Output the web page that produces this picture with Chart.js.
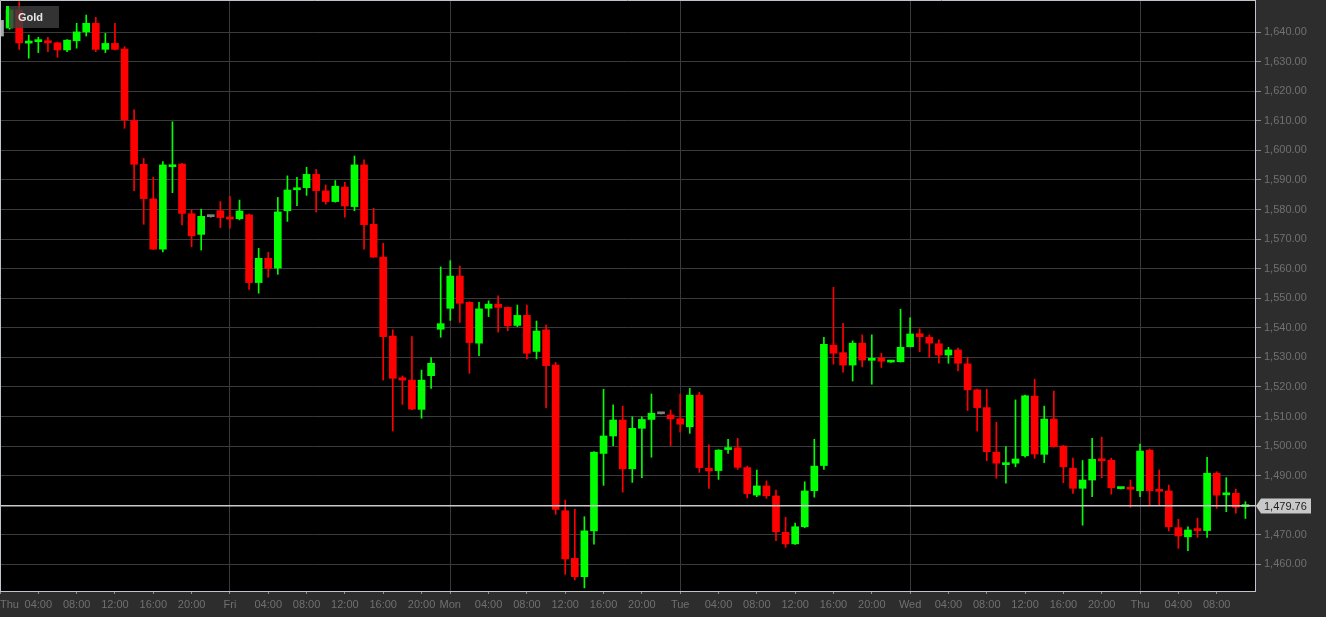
<!DOCTYPE html>
<html>
<head>
<meta charset="utf-8">
<script src="https://cdn.jsdelivr.net/npm/chart.js@4.4.1/dist/chart.umd.min.js"></script>
<style>
html,body{margin:0;padding:0;background:#2d2d2d;overflow:hidden}
#wrap{width:1326px;height:617px;position:relative}
</style>
</head>
<body>
<div id="wrap"><canvas id="c"></canvas></div>
<script>
// ---------- DATA ----------
const seriesName = 'Gold';
const lastPrice = 1479.76;

const categories = [
 'Thu','01:00','02:00','03:00','04:00','05:00','06:00','07:00','08:00','09:00','10:00','11:00','12:00','13:00','14:00','15:00','16:00','17:00','18:00','19:00','20:00','21:00','22:00','23:00',
 'Fri','01:00','02:00','03:00','04:00','05:00','06:00','07:00','08:00','09:00','10:00','11:00','12:00','13:00','14:00','15:00','16:00','17:00','18:00','19:00','20:00','21:00','22:00',
 'Mon','01:00','02:00','03:00','04:00','05:00','06:00','07:00','08:00','09:00','10:00','11:00','12:00','13:00','14:00','15:00','16:00','17:00','18:00','19:00','20:00','21:00','22:00','23:00',
 'Tue','01:00','02:00','03:00','04:00','05:00','06:00','07:00','08:00','09:00','10:00','11:00','12:00','13:00','14:00','15:00','16:00','17:00','18:00','19:00','20:00','21:00','22:00','23:00',
 'Wed','01:00','02:00','03:00','04:00','05:00','06:00','07:00','08:00','09:00','10:00','11:00','12:00','13:00','14:00','15:00','16:00','17:00','18:00','19:00','20:00','21:00','22:00','23:00',
 'Thu','01:00','02:00','03:00','04:00','05:00','06:00','07:00','08:00','09:00','10:00','11:00',''
];

const openValues = [
 1644.0,1641.4,1647.5,1636.3,1636.8,1637.1,1636.4,1634.0,1637.1,1640.1,1643.0,1634.2,1636.2,1634.3,1610.1,1595.3,1583.6,1566.6,1594.5,1595.4,1578.6,1571.6,1577.6,1579.6,
 1577.3,1576.9,1578.2,1555.3,1563.5,1560.2,1579.6,1586.7,1587.4,1591.9,1586.3,1582.7,1587.6,1581.0,1595.1,1575.0,1563.9,1537.2,1523.1,1522.3,1512.4,1523.8,1539.5,
 1546.6,1557.5,1548.6,1534.8,1546.6,1548.0,1546.9,1540.8,1544.2,1532.0,1539.3,1527.4,1478.1,1462.0,1455.8,1471.3,1497.5,1503.4,1508.8,1492.3,1506.0,1509.0,1510.9,1510.5,
 1509.2,1506.5,1517.2,1492.5,1491.7,1498.8,1499.4,1492.7,1483.4,1486.5,1483.1,1470.8,1466.9,1472.7,1484.9,1493.4,1534.1,1531.6,1527.4,1534.8,1529.0,1529.8,1528.4,1528.5,
 1533.6,1538.0,1536.8,1534.6,1530.8,1532.5,1527.8,1519.0,1513.0,1497.9,1493.7,1494.2,1496.7,1516.9,1497.2,1509.1,1500.0,1492.5,1485.7,1488.5,1495.6,1495.2,1485.6,1485.8,
 1484.9,1498.6,1485.1,1484.8,1472.4,1469.3,1471.8,1471.4,1490.8,1483.5,1484.0,1479.5,null
];
const highValues = [
 1644.0,1648.0,1650.3,1639.0,1638.3,1638.3,1636.6,1637.5,1643.0,1645.8,1645.0,1639.6,1643.0,1635.1,1613.7,1597.3,1590.9,1596.2,1609.7,1595.6,1579.9,1580.1,1577.8,1582.7,
 1584.4,1583.2,1578.5,1566.9,1565.5,1584.1,1591.4,1590.9,1594.3,1593.6,1588.3,1589.8,1589.2,1598.1,1596.8,1580.4,1568.6,1539.3,1523.7,1537.0,1525.7,1529.9,1560.6,
 1562.7,1560.9,1548.8,1548.6,1549.1,1550.8,1547.0,1547.7,1547.7,1542.3,1540.9,1528.3,1481.7,1478.6,1476.1,1498.1,1519.2,1513.9,1513.5,1509.9,1509.9,1517.6,1510.9,1512.2,
 1517.6,1519.5,1518.2,1500.4,1498.8,1502.3,1502.6,1493.2,1491.9,1488.2,1485.1,1475.9,1473.9,1487.9,1502.3,1536.8,1553.7,1541.5,1535.6,1537.6,1537.6,1531.4,1528.7,1546.3,
 1543.4,1539.6,1537.6,1535.9,1533.4,1533.1,1530.0,1519.2,1519.2,1508.0,1499.8,1515.6,1517.2,1522.6,1513.5,1518.6,1500.2,1495.9,1495.1,1502.6,1503.0,1495.9,1485.9,1488.5,
 1500.7,1499.0,1491.9,1486.8,1475.2,1472.7,1475.6,1496.2,1491.3,1489.3,1485.4,1481.2,null
];
const lowValues = [
 1638.7,1641.0,1634.2,1631.2,1633.1,1633.4,1631.5,1633.4,1634.6,1638.7,1633.4,1633.1,1634.0,1607.5,1586.4,1575.0,1566.5,1565.7,1585.7,1574.8,1567.4,1566.3,1577.4,1573.9,
 1573.7,1576.5,1553.0,1551.7,1557.1,1558.1,1576.0,1581.3,1584.8,1579.1,1581.8,1582.5,1577.4,1579.6,1566.6,1563.8,1522.3,1505.1,1514.1,1512.3,1509.4,1519.5,1536.8,
 1542.5,1541.8,1524.6,1530.6,1543.8,1538.5,1539.0,1540.4,1529.5,1529.5,1513.0,1476.9,1456.6,1454.7,1452.0,1466.8,1486.7,1500.1,1484.4,1487.7,1489.3,1496.2,1510.9,1500.1,
 1504.7,1504.3,1491.1,1485.7,1488.7,1497.5,1492.1,1482.5,1482.9,1482.3,1468.0,1465.7,1466.7,1472.4,1482.7,1492.1,1527.7,1525.0,1522.0,1526.8,1520.9,1526.6,1528.3,1528.4,
 1533.5,1531.9,1530.0,1528.0,1528.0,1525.4,1512.0,1505.1,1495.0,1489.1,1487.4,1493.0,1496.2,1495.8,1494.4,1499.6,1487.6,1484.0,1473.2,1482.9,1489.3,1483.7,1485.5,1479.3,
 1482.9,1480.0,1480.0,1471.3,1465.4,1464.6,1469.1,1469.1,1478.9,1477.8,1477.3,1475.5,null
];
const closeValues = [
 1638.7,1647.5,1636.4,1637.0,1637.4,1636.4,1634.0,1637.3,1640.1,1643.0,1634.2,1636.2,1634.2,1610.3,1595.3,1583.7,1566.6,1595.1,1595.1,1578.7,1571.1,1577.7,1577.6,1577.3,
 1576.8,1579.5,1555.3,1563.5,1560.1,1579.2,1586.6,1587.2,1591.9,1586.4,1582.7,1587.9,1581.2,1595.1,1574.9,1563.9,1537.0,1522.9,1522.3,1512.5,1522.3,1528.0,1541.4,
 1557.5,1548.3,1535.0,1546.4,1548.0,1546.9,1540.7,1544.2,1531.4,1538.9,1527.2,1478.6,1461.8,1455.8,1471.3,1497.9,1503.4,1508.8,1492.3,1506.0,1509.0,1511.1,1510.9,1509.2,
 1507.4,1517.2,1492.7,1491.6,1498.6,1499.4,1492.8,1483.9,1486.5,1483.2,1471.0,1466.9,1472.7,1484.8,1493.2,1534.4,1531.4,1527.4,1534.8,1529.1,1529.7,1528.7,1528.6,1533.4,
 1537.9,1537.0,1534.8,1530.8,1532.5,1528.0,1519.0,1513.0,1498.1,1494.2,1494.2,1495.6,1517.0,1497.3,1509.1,1499.8,1493.0,1485.7,1488.5,1495.5,1495.0,1485.9,1485.8,1485.4,
 1498.3,1484.9,1484.7,1472.7,1469.6,1471.6,1471.4,1490.8,1483.4,1484.0,1479.3,1479.76,null
];

const yTickValues = [1460,1470,1480,1490,1500,1510,1520,1530,1540,1550,1560,1570,1580,1590,1600,1610,1620,1630,1640];
const dayNames = ['Thu','Fri','Mon','Tue','Wed'];
const shownHours = ['04:00','08:00','12:00','16:00','20:00'];

// ---------- STYLE ----------
const FONT = '"Liberation Sans", Arial, sans-serif';
const UP = '#00ff00', DOWN = '#ff0000', FLAT = '#808080', FIRST = '#a8a8a8';
const fmt = v => v.toLocaleString('en-US', {minimumFractionDigits: 2, maximumFractionDigits: 2});

const candleColors = openValues.map((o, i) => {
  if (o == null) return 'transparent';
  if (i === 0) return FIRST;
  const c = closeValues[i];
  return c > o ? UP : (c < o ? DOWN : FLAT);
});

const isDay = i => dayNames.includes(categories[i]);
const isShown = i => isDay(i) || shownHours.includes(categories[i]);

const bgPlugin = {
  id: 'bg',
  beforeDraw(chart) {
    const {ctx, chartArea: a} = chart;
    ctx.save();
    ctx.fillStyle = '#2d2d2d';
    ctx.fillRect(0, 0, chart.width, chart.height);
    ctx.fillStyle = '#000000';
    ctx.fillRect(a.left, a.top, a.right - a.left, a.bottom - a.top);
    ctx.restore();
  },
  afterDatasetsDraw(chart) {
    const {ctx, chartArea: a} = chart;
    const ys = chart.scales.y;
    const y = ys.getPixelForValue(lastPrice);
    ctx.save();
    // current price line
    ctx.strokeStyle = '#c8c8c8';
    ctx.lineWidth = 1.5;
    ctx.beginPath();
    ctx.moveTo(a.left, y);
    ctx.lineTo(a.right, y);
    ctx.stroke();
    // legend
    ctx.fillStyle = 'rgba(62,62,62,0.82)';
    ctx.fillRect(a.left + 6, a.top + 6, 53, 22);
    ctx.fillStyle = UP;
    ctx.fillRect(a.left + 6, a.top + 6, 3, 22);
    ctx.fillStyle = '#e6e6e6';
    ctx.font = 'bold 11px ' + FONT;
    ctx.textBaseline = 'middle';
    ctx.textAlign = 'left';
    ctx.fillText(seriesName, a.left + 18, a.top + 17.5);
    // frame left/top
    ctx.strokeStyle = '#c0c4cc';
    ctx.lineWidth = 1;
    ctx.beginPath();
    ctx.moveTo(a.left + 0.5, a.bottom);
    ctx.lineTo(a.left + 0.5, a.top + 0.5);
    ctx.lineTo(a.right, a.top + 0.5);
    ctx.stroke();
    ctx.restore();
  },
  afterDraw(chart) {
    const {ctx, chartArea: a} = chart;
    const y = Math.round(chart.scales.y.getPixelForValue(lastPrice));
    const x0 = a.right + 1;
    ctx.save();
    ctx.fillStyle = '#c8c8c8';
    ctx.beginPath();
    ctx.moveTo(x0, y);
    ctx.lineTo(x0 + 5, y - 7.5);
    ctx.lineTo(x0 + 55, y - 7.5);
    ctx.lineTo(x0 + 55, y + 7.5);
    ctx.lineTo(x0 + 5, y + 7.5);
    ctx.closePath();
    ctx.fill();
    ctx.fillStyle = '#1c1c1c';
    ctx.font = '11px ' + FONT;
    ctx.textBaseline = 'middle';
    ctx.textAlign = 'left';
    ctx.fillText(fmt(lastPrice), a.right + 9, y + 0.5);
    ctx.restore();
  }
};

new Chart(document.getElementById('c'), {
  type: 'bar',
  data: {
    labels: categories,
    datasets: [
      {
        label: 'body',
        data: openValues.map((o, i) => o == null ? null : [o, closeValues[i]]),
        backgroundColor: candleColors,
        borderWidth: 0,
        barThickness: 7,
        minBarLength: 2,
        grouped: false,
        order: 0
      },
      {
        label: 'wick',
        data: lowValues.map((l, i) => l == null ? null : [l, highValues[i]]),
        backgroundColor: candleColors,
        borderWidth: 0,
        barThickness: 1,
        grouped: false,
        order: 1
      }
    ]
  },
  options: {
    responsive: true,
    maintainAspectRatio: false,
    animation: false,
    devicePixelRatio: 1,
    layout: {padding: 0},
    plugins: {legend: {display: false}, tooltip: {enabled: false}},
    scales: {
      x: {
        type: 'category',
        offset: false,
        grid: {
          offset: false,
          color: ctx => isDay(ctx.index) ? '#3b3b3b' : 'transparent',
          tickColor: ctx => isShown(ctx.index) ? '#8c8c8c' : 'transparent',
          tickLength: 3,
          lineWidth: 1
        },
        border: {display: true, color: '#c0c4cc', width: 1},
        ticks: {
          autoSkip: false,
          maxRotation: 0,
          minRotation: 0,
          align: 'inner',
          padding: 4,
          color: '#707070',
          font: {size: 11, family: FONT},
          callback: (v, i) => isShown(i) ? categories[i] : ''
        },
        afterFit: s => { s.height = 26; s.paddingLeft = 0; s.paddingRight = 0; }
      },
      y: {
        type: 'linear',
        position: 'right',
        min: 1450.96,
        max: 1650.89,
        afterBuildTicks: s => { s.ticks = yTickValues.map(v => ({value: v})); },
        grid: {color: '#3b3b3b', tickColor: '#8c8c8c', tickLength: 6, lineWidth: 1},
        border: {display: true, color: '#c0c4cc', width: 1},
        ticks: {
          padding: 3,
          color: '#707070',
          font: {size: 11, family: FONT},
          callback: v => fmt(v)
        },
        afterFit: s => { s.width = 71; s.paddingTop = 0; s.paddingBottom = 0; }
      }
    }
  },
  plugins: [bgPlugin]
});
</script>
</body>
</html>
